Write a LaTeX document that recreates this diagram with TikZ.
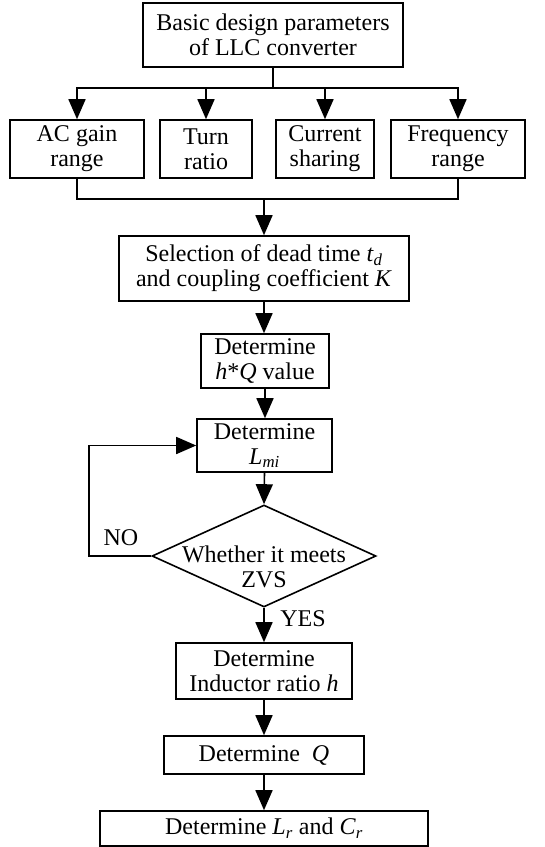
\documentclass[tikz,border=0pt]{standalone}
\usepackage{fontspec}
\setmainfont{Liberation Serif}
\usetikzlibrary{arrows.meta,shapes.geometric}
\begin{document}
\begin{tikzpicture}[x=1pt,y=-1pt,
  font=\fontsize{24}{25}\selectfont,
  line width=1.6pt,
  box/.style={draw, rectangle, inner sep=0pt, align=center},
  arr/.style={-{Triangle[length=20pt,width=17pt]}}]
\useasboundingbox (0,0) rectangle (545,847);

\node[box, minimum width=260pt, minimum height=64pt] (top) at (273,35) {Basic design parameters\\of LLC converter};
\node[box, minimum width=134pt, minimum height=58pt] (ac) at (77,149) {AC gain\\range};
\node[box, minimum width=92pt, minimum height=58pt] (turn) at (206,149) {Turn\\ratio};
\node[box, minimum width=98pt, minimum height=58pt] (cur) at (325,149) {Current\\sharing};
\node[box, minimum width=134pt, minimum height=58pt] (freq) at (458,149) {Frequency\\range};
\node[box, minimum width=290pt, minimum height=65pt] (sel) at (264,268.5) {Selection of dead time \textit{t}\textsubscript{\textit{d}}\\and coupling coefficient \textit{K}};
\node[box, minimum width=128pt, minimum height=54pt] (hq) at (265,361) {Determine\\\textit{h}*\textit{Q} value};
\node[box, minimum width=135pt, minimum height=53pt] (lmi) at (264.5,445.5) {Determine\\\textit{L}\textsubscript{\textit{mi}}};
\node[draw, diamond, minimum width=224pt, minimum height=102pt, inner sep=0pt] (dia) at (264,556) {};
\node[align=center, inner sep=0pt] (diat) at (264,567) {Whether it meets\\ZVS};
\node[box, minimum width=176pt, minimum height=56pt] (ind) at (264,671) {Determine\\Inductor ratio \textit{h}};
\node[box, minimum width=200pt, minimum height=38pt] (q) at (264,755) {Determine\ \ \textit{Q}};
\node[box, minimum width=328pt, minimum height=35pt] (lc) at (264,828.5) {Determine \textit{L}\textsubscript{\textit{r}} and \textit{C}\textsubscript{\textit{r}}};

\node (no) at (121,538) {NO};
\node (yes) at (303,619) {YES};

\coordinate (j1) at (273,88);
\coordinate (j2) at (264,199);
\coordinate (nl) at (89,556);

\draw (top.south) -- (j1);
\draw[arr] (j1) -| (ac.north);
\draw[arr] (j1) -| (turn.north);
\draw[arr] (j1) -| (cur.north);
\draw[arr] (j1) -| (freq.north);
\draw (ac.south) |- (j2) -| (freq.south);
\draw[arr] (j2) -- (sel.north);
\draw[arr] (sel.south) -- (sel.south |- hq.north);
\draw[arr] (hq.south) -- (hq.south |- lmi.north);
\draw[arr] (lmi.south) -- (dia.north);
\draw[arr] (dia.west) -- (nl) |- (lmi.west);
\draw[arr] (dia.south) -- (dia.south |- ind.north);
\draw[arr] (ind.south) -- (ind.south |- q.north);
\draw[arr] (q.south) -- (lc.north);
\end{tikzpicture}
\end{document}
